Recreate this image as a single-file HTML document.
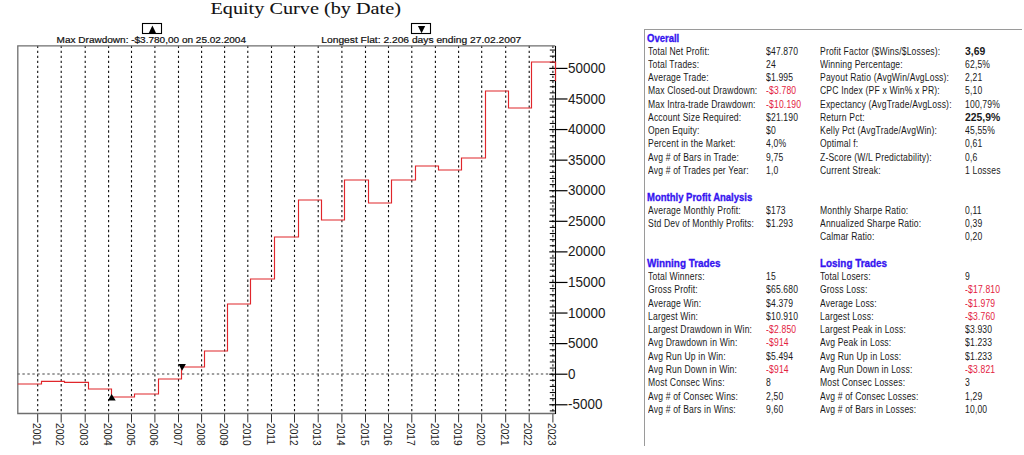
<!DOCTYPE html>
<html><head><meta charset="utf-8"><title>Equity Curve</title>
<style>
html,body{margin:0;padding:0;background:#fff;}
body{width:1024px;height:455px;position:relative;overflow:hidden;}
#tbl{position:absolute;left:0;top:0;width:1024px;height:455px;}
#box{position:absolute;left:644.2px;top:29.4px;width:377.5px;height:416.2px;border-top:1.3px solid #9a9a9a;border-left:1.3px solid #9a9a9a;box-sizing:border-box;}
#tbl span{position:absolute;white-space:nowrap;font-family:"Liberation Sans",Arial,sans-serif;font-size:10px;line-height:0;color:#1a1a1a;transform-origin:0 0;transform:scaleX(0.857);letter-spacing:0.2px;}
#tbl span.r{color:#e3223e;}
#tbl span.h{color:#3514f0;font-weight:bold;transform:scaleX(0.95);-webkit-text-stroke:0.3px #3514f0;margin-left:-0.7px;margin-top:0.3px;letter-spacing:0;}
#tbl span.h2{transform:scaleX(0.99);}
#tbl span.b{font-weight:bold;transform:scaleX(1.04);letter-spacing:0;}
</style></head><body>
<svg width="640" height="455" viewBox="0 0 640 455" style="position:absolute;left:0;top:0"><text transform="translate(210.4,13.9) scale(1.205,1)" font-family="Liberation Serif, serif" font-size="16.8" fill="#111" stroke="#111" stroke-width="0.08">Equity Curve (by Date)</text><text transform="translate(56.6,42.9) scale(1.115,1)" font-family="Liberation Sans, sans-serif" font-size="9" fill="#111" stroke="#111" stroke-width="0.2">Max Drawdown: -$3.780,00 on 25.02.2004</text><text transform="translate(321.3,42.8) scale(1.14,1)" font-family="Liberation Sans, sans-serif" font-size="9" fill="#111" stroke="#111" stroke-width="0.2">Longest Flat: 2.206 days ending 27.02.2007</text><rect x="142.5" y="23.5" width="19" height="10" fill="#fff" stroke="#000" stroke-width="1.1"/><path d="M152.4 25.4 L156.1 33.3 L148.7 33.3 Z" fill="#000"/><rect x="411.5" y="23.5" width="19" height="10" fill="#fff" stroke="#000" stroke-width="1.1"/><path d="M417.9 26.0 L425.2 26.0 L421.6 33.3 Z" fill="#000"/><line x1="37.7" y1="45.78" x2="37.7" y2="413.5" stroke="#111" stroke-width="1.1" stroke-dasharray="2.3 2.675"/><line x1="61.2" y1="45.78" x2="61.2" y2="413.5" stroke="#111" stroke-width="1.1" stroke-dasharray="2.3 2.675"/><line x1="85.2" y1="45.78" x2="85.2" y2="413.5" stroke="#111" stroke-width="1.1" stroke-dasharray="2.3 2.675"/><line x1="108.6" y1="45.78" x2="108.6" y2="413.5" stroke="#111" stroke-width="1.1" stroke-dasharray="2.3 2.675"/><line x1="131.5" y1="45.78" x2="131.5" y2="413.5" stroke="#111" stroke-width="1.1" stroke-dasharray="2.3 2.675"/><line x1="154.9" y1="45.78" x2="154.9" y2="413.5" stroke="#111" stroke-width="1.1" stroke-dasharray="2.3 2.675"/><line x1="178.5" y1="45.78" x2="178.5" y2="413.5" stroke="#111" stroke-width="1.1" stroke-dasharray="2.3 2.675"/><line x1="201.6" y1="45.78" x2="201.6" y2="413.5" stroke="#111" stroke-width="1.1" stroke-dasharray="2.3 2.675"/><line x1="224.6" y1="45.78" x2="224.6" y2="413.5" stroke="#111" stroke-width="1.1" stroke-dasharray="2.3 2.675"/><line x1="247.8" y1="45.78" x2="247.8" y2="413.5" stroke="#111" stroke-width="1.1" stroke-dasharray="2.3 2.675"/><line x1="271.5" y1="45.78" x2="271.5" y2="413.5" stroke="#111" stroke-width="1.1" stroke-dasharray="2.3 2.675"/><line x1="294.5" y1="45.78" x2="294.5" y2="413.5" stroke="#111" stroke-width="1.1" stroke-dasharray="2.3 2.675"/><line x1="318.2" y1="45.78" x2="318.2" y2="413.5" stroke="#111" stroke-width="1.1" stroke-dasharray="2.3 2.675"/><line x1="341.9" y1="45.78" x2="341.9" y2="413.5" stroke="#111" stroke-width="1.1" stroke-dasharray="2.3 2.675"/><line x1="365.5" y1="45.78" x2="365.5" y2="413.5" stroke="#111" stroke-width="1.1" stroke-dasharray="2.3 2.675"/><line x1="388.5" y1="45.78" x2="388.5" y2="413.5" stroke="#111" stroke-width="1.1" stroke-dasharray="2.3 2.675"/><line x1="411.8" y1="45.78" x2="411.8" y2="413.5" stroke="#111" stroke-width="1.1" stroke-dasharray="2.3 2.675"/><line x1="435.4" y1="45.78" x2="435.4" y2="413.5" stroke="#111" stroke-width="1.1" stroke-dasharray="2.3 2.675"/><line x1="458.6" y1="45.78" x2="458.6" y2="413.5" stroke="#111" stroke-width="1.1" stroke-dasharray="2.3 2.675"/><line x1="481.7" y1="45.78" x2="481.7" y2="413.5" stroke="#111" stroke-width="1.1" stroke-dasharray="2.3 2.675"/><line x1="505.7" y1="45.78" x2="505.7" y2="413.5" stroke="#111" stroke-width="1.1" stroke-dasharray="2.3 2.675"/><line x1="529.2" y1="45.78" x2="529.2" y2="413.5" stroke="#111" stroke-width="1.1" stroke-dasharray="2.3 2.675"/><line x1="552.9" y1="45.78" x2="552.9" y2="413.5" stroke="#111" stroke-width="1.1" stroke-dasharray="2.3 2.675"/><line x1="17.400000000000002" y1="374.0" x2="555.3" y2="374.0" stroke="#444" stroke-width="1.15" stroke-dasharray="2.4 2.585"/><line x1="37.7" y1="413.5" x2="37.7" y2="422.5" stroke="#333" stroke-width="1"/><line x1="61.2" y1="413.5" x2="61.2" y2="422.5" stroke="#333" stroke-width="1"/><line x1="85.2" y1="413.5" x2="85.2" y2="422.5" stroke="#333" stroke-width="1"/><line x1="108.6" y1="413.5" x2="108.6" y2="422.5" stroke="#333" stroke-width="1"/><line x1="131.5" y1="413.5" x2="131.5" y2="422.5" stroke="#333" stroke-width="1"/><line x1="154.9" y1="413.5" x2="154.9" y2="422.5" stroke="#333" stroke-width="1"/><line x1="178.5" y1="413.5" x2="178.5" y2="422.5" stroke="#333" stroke-width="1"/><line x1="201.6" y1="413.5" x2="201.6" y2="422.5" stroke="#333" stroke-width="1"/><line x1="224.6" y1="413.5" x2="224.6" y2="422.5" stroke="#333" stroke-width="1"/><line x1="247.8" y1="413.5" x2="247.8" y2="422.5" stroke="#333" stroke-width="1"/><line x1="271.5" y1="413.5" x2="271.5" y2="422.5" stroke="#333" stroke-width="1"/><line x1="294.5" y1="413.5" x2="294.5" y2="422.5" stroke="#333" stroke-width="1"/><line x1="318.2" y1="413.5" x2="318.2" y2="422.5" stroke="#333" stroke-width="1"/><line x1="341.9" y1="413.5" x2="341.9" y2="422.5" stroke="#333" stroke-width="1"/><line x1="365.5" y1="413.5" x2="365.5" y2="422.5" stroke="#333" stroke-width="1"/><line x1="388.5" y1="413.5" x2="388.5" y2="422.5" stroke="#333" stroke-width="1"/><line x1="411.8" y1="413.5" x2="411.8" y2="422.5" stroke="#333" stroke-width="1"/><line x1="435.4" y1="413.5" x2="435.4" y2="422.5" stroke="#333" stroke-width="1"/><line x1="458.6" y1="413.5" x2="458.6" y2="422.5" stroke="#333" stroke-width="1"/><line x1="481.7" y1="413.5" x2="481.7" y2="422.5" stroke="#333" stroke-width="1"/><line x1="505.7" y1="413.5" x2="505.7" y2="422.5" stroke="#333" stroke-width="1"/><line x1="529.2" y1="413.5" x2="529.2" y2="422.5" stroke="#333" stroke-width="1"/><line x1="552.9" y1="413.5" x2="552.9" y2="422.5" stroke="#333" stroke-width="1"/><path d="M555.3 45.9 H17.8 V413.5 H555.3" fill="none" stroke="#6e6e6e" stroke-width="1.3"/><line x1="555.5" y1="45.9" x2="555.5" y2="414.0" stroke="#000" stroke-width="1.1"/><line x1="549.8" y1="410.90" x2="555.5" y2="410.90" stroke="#000" stroke-width="1"/><line x1="549.3" y1="404.78" x2="567.5" y2="404.78" stroke="#000" stroke-width="1.2"/><line x1="549.8" y1="398.66" x2="555.5" y2="398.66" stroke="#000" stroke-width="1"/><line x1="549.8" y1="392.55" x2="555.5" y2="392.55" stroke="#000" stroke-width="1"/><line x1="549.8" y1="386.43" x2="555.5" y2="386.43" stroke="#000" stroke-width="1"/><line x1="549.8" y1="380.32" x2="555.5" y2="380.32" stroke="#000" stroke-width="1"/><line x1="549.3" y1="374.20" x2="567.5" y2="374.20" stroke="#000" stroke-width="1.2"/><line x1="549.8" y1="368.08" x2="555.5" y2="368.08" stroke="#000" stroke-width="1"/><line x1="549.8" y1="361.97" x2="555.5" y2="361.97" stroke="#000" stroke-width="1"/><line x1="549.8" y1="355.85" x2="555.5" y2="355.85" stroke="#000" stroke-width="1"/><line x1="549.8" y1="349.74" x2="555.5" y2="349.74" stroke="#000" stroke-width="1"/><line x1="549.3" y1="343.62" x2="567.5" y2="343.62" stroke="#000" stroke-width="1.2"/><line x1="549.8" y1="337.50" x2="555.5" y2="337.50" stroke="#000" stroke-width="1"/><line x1="549.8" y1="331.39" x2="555.5" y2="331.39" stroke="#000" stroke-width="1"/><line x1="549.8" y1="325.27" x2="555.5" y2="325.27" stroke="#000" stroke-width="1"/><line x1="549.8" y1="319.16" x2="555.5" y2="319.16" stroke="#000" stroke-width="1"/><line x1="549.3" y1="313.04" x2="567.5" y2="313.04" stroke="#000" stroke-width="1.2"/><line x1="549.8" y1="306.92" x2="555.5" y2="306.92" stroke="#000" stroke-width="1"/><line x1="549.8" y1="300.81" x2="555.5" y2="300.81" stroke="#000" stroke-width="1"/><line x1="549.8" y1="294.69" x2="555.5" y2="294.69" stroke="#000" stroke-width="1"/><line x1="549.8" y1="288.58" x2="555.5" y2="288.58" stroke="#000" stroke-width="1"/><line x1="549.3" y1="282.46" x2="567.5" y2="282.46" stroke="#000" stroke-width="1.2"/><line x1="549.8" y1="276.34" x2="555.5" y2="276.34" stroke="#000" stroke-width="1"/><line x1="549.8" y1="270.23" x2="555.5" y2="270.23" stroke="#000" stroke-width="1"/><line x1="549.8" y1="264.11" x2="555.5" y2="264.11" stroke="#000" stroke-width="1"/><line x1="549.8" y1="258.00" x2="555.5" y2="258.00" stroke="#000" stroke-width="1"/><line x1="549.3" y1="251.88" x2="567.5" y2="251.88" stroke="#000" stroke-width="1.2"/><line x1="549.8" y1="245.76" x2="555.5" y2="245.76" stroke="#000" stroke-width="1"/><line x1="549.8" y1="239.65" x2="555.5" y2="239.65" stroke="#000" stroke-width="1"/><line x1="549.8" y1="233.53" x2="555.5" y2="233.53" stroke="#000" stroke-width="1"/><line x1="549.8" y1="227.42" x2="555.5" y2="227.42" stroke="#000" stroke-width="1"/><line x1="549.3" y1="221.30" x2="567.5" y2="221.30" stroke="#000" stroke-width="1.2"/><line x1="549.8" y1="215.18" x2="555.5" y2="215.18" stroke="#000" stroke-width="1"/><line x1="549.8" y1="209.07" x2="555.5" y2="209.07" stroke="#000" stroke-width="1"/><line x1="549.8" y1="202.95" x2="555.5" y2="202.95" stroke="#000" stroke-width="1"/><line x1="549.8" y1="196.84" x2="555.5" y2="196.84" stroke="#000" stroke-width="1"/><line x1="549.3" y1="190.72" x2="567.5" y2="190.72" stroke="#000" stroke-width="1.2"/><line x1="549.8" y1="184.60" x2="555.5" y2="184.60" stroke="#000" stroke-width="1"/><line x1="549.8" y1="178.49" x2="555.5" y2="178.49" stroke="#000" stroke-width="1"/><line x1="549.8" y1="172.37" x2="555.5" y2="172.37" stroke="#000" stroke-width="1"/><line x1="549.8" y1="166.26" x2="555.5" y2="166.26" stroke="#000" stroke-width="1"/><line x1="549.3" y1="160.14" x2="567.5" y2="160.14" stroke="#000" stroke-width="1.2"/><line x1="549.8" y1="154.02" x2="555.5" y2="154.02" stroke="#000" stroke-width="1"/><line x1="549.8" y1="147.91" x2="555.5" y2="147.91" stroke="#000" stroke-width="1"/><line x1="549.8" y1="141.79" x2="555.5" y2="141.79" stroke="#000" stroke-width="1"/><line x1="549.8" y1="135.68" x2="555.5" y2="135.68" stroke="#000" stroke-width="1"/><line x1="549.3" y1="129.56" x2="567.5" y2="129.56" stroke="#000" stroke-width="1.2"/><line x1="549.8" y1="123.44" x2="555.5" y2="123.44" stroke="#000" stroke-width="1"/><line x1="549.8" y1="117.33" x2="555.5" y2="117.33" stroke="#000" stroke-width="1"/><line x1="549.8" y1="111.21" x2="555.5" y2="111.21" stroke="#000" stroke-width="1"/><line x1="549.8" y1="105.10" x2="555.5" y2="105.10" stroke="#000" stroke-width="1"/><line x1="549.3" y1="98.98" x2="567.5" y2="98.98" stroke="#000" stroke-width="1.2"/><line x1="549.8" y1="92.86" x2="555.5" y2="92.86" stroke="#000" stroke-width="1"/><line x1="549.8" y1="86.75" x2="555.5" y2="86.75" stroke="#000" stroke-width="1"/><line x1="549.8" y1="80.63" x2="555.5" y2="80.63" stroke="#000" stroke-width="1"/><line x1="549.8" y1="74.52" x2="555.5" y2="74.52" stroke="#000" stroke-width="1"/><line x1="549.3" y1="68.40" x2="567.5" y2="68.40" stroke="#000" stroke-width="1.2"/><line x1="549.8" y1="62.28" x2="555.5" y2="62.28" stroke="#000" stroke-width="1"/><line x1="549.8" y1="56.17" x2="555.5" y2="56.17" stroke="#000" stroke-width="1"/><line x1="549.8" y1="50.05" x2="555.5" y2="50.05" stroke="#000" stroke-width="1"/><text transform="translate(568.0,409.38) scale(0.96,1)" font-family="Liberation Sans, sans-serif" font-size="14" fill="#1a1a1a">-5000</text><text transform="translate(568.0,378.80) scale(0.96,1)" font-family="Liberation Sans, sans-serif" font-size="14" fill="#1a1a1a">0</text><text transform="translate(568.0,348.22) scale(0.96,1)" font-family="Liberation Sans, sans-serif" font-size="14" fill="#1a1a1a">5000</text><text transform="translate(568.0,317.64) scale(0.96,1)" font-family="Liberation Sans, sans-serif" font-size="14" fill="#1a1a1a">10000</text><text transform="translate(568.0,287.06) scale(0.96,1)" font-family="Liberation Sans, sans-serif" font-size="14" fill="#1a1a1a">15000</text><text transform="translate(568.0,256.48) scale(0.96,1)" font-family="Liberation Sans, sans-serif" font-size="14" fill="#1a1a1a">20000</text><text transform="translate(568.0,225.90) scale(0.96,1)" font-family="Liberation Sans, sans-serif" font-size="14" fill="#1a1a1a">25000</text><text transform="translate(568.0,195.32) scale(0.96,1)" font-family="Liberation Sans, sans-serif" font-size="14" fill="#1a1a1a">30000</text><text transform="translate(568.0,164.74) scale(0.96,1)" font-family="Liberation Sans, sans-serif" font-size="14" fill="#1a1a1a">35000</text><text transform="translate(568.0,134.16) scale(0.96,1)" font-family="Liberation Sans, sans-serif" font-size="14" fill="#1a1a1a">40000</text><text transform="translate(568.0,103.58) scale(0.96,1)" font-family="Liberation Sans, sans-serif" font-size="14" fill="#1a1a1a">45000</text><text transform="translate(568.0,73.00) scale(0.96,1)" font-family="Liberation Sans, sans-serif" font-size="14" fill="#1a1a1a">50000</text><text transform="translate(32.90,423.0) rotate(90) scale(1.0,1.03)" font-family="Liberation Sans, sans-serif" font-size="10.2" fill="#222">2001</text><text transform="translate(56.40,423.0) rotate(90) scale(1.0,1.03)" font-family="Liberation Sans, sans-serif" font-size="10.2" fill="#222">2002</text><text transform="translate(80.40,423.0) rotate(90) scale(1.0,1.03)" font-family="Liberation Sans, sans-serif" font-size="10.2" fill="#222">2003</text><text transform="translate(103.80,423.0) rotate(90) scale(1.0,1.03)" font-family="Liberation Sans, sans-serif" font-size="10.2" fill="#222">2004</text><text transform="translate(126.70,423.0) rotate(90) scale(1.0,1.03)" font-family="Liberation Sans, sans-serif" font-size="10.2" fill="#222">2005</text><text transform="translate(150.10,423.0) rotate(90) scale(1.0,1.03)" font-family="Liberation Sans, sans-serif" font-size="10.2" fill="#222">2006</text><text transform="translate(173.70,423.0) rotate(90) scale(1.0,1.03)" font-family="Liberation Sans, sans-serif" font-size="10.2" fill="#222">2007</text><text transform="translate(196.80,423.0) rotate(90) scale(1.0,1.03)" font-family="Liberation Sans, sans-serif" font-size="10.2" fill="#222">2008</text><text transform="translate(219.80,423.0) rotate(90) scale(1.0,1.03)" font-family="Liberation Sans, sans-serif" font-size="10.2" fill="#222">2009</text><text transform="translate(243.00,423.0) rotate(90) scale(1.0,1.03)" font-family="Liberation Sans, sans-serif" font-size="10.2" fill="#222">2010</text><text transform="translate(266.70,423.0) rotate(90) scale(1.0,1.03)" font-family="Liberation Sans, sans-serif" font-size="10.2" fill="#222">2011</text><text transform="translate(289.70,423.0) rotate(90) scale(1.0,1.03)" font-family="Liberation Sans, sans-serif" font-size="10.2" fill="#222">2012</text><text transform="translate(313.40,423.0) rotate(90) scale(1.0,1.03)" font-family="Liberation Sans, sans-serif" font-size="10.2" fill="#222">2013</text><text transform="translate(337.10,423.0) rotate(90) scale(1.0,1.03)" font-family="Liberation Sans, sans-serif" font-size="10.2" fill="#222">2014</text><text transform="translate(360.70,423.0) rotate(90) scale(1.0,1.03)" font-family="Liberation Sans, sans-serif" font-size="10.2" fill="#222">2015</text><text transform="translate(383.70,423.0) rotate(90) scale(1.0,1.03)" font-family="Liberation Sans, sans-serif" font-size="10.2" fill="#222">2016</text><text transform="translate(407.00,423.0) rotate(90) scale(1.0,1.03)" font-family="Liberation Sans, sans-serif" font-size="10.2" fill="#222">2017</text><text transform="translate(430.60,423.0) rotate(90) scale(1.0,1.03)" font-family="Liberation Sans, sans-serif" font-size="10.2" fill="#222">2018</text><text transform="translate(453.80,423.0) rotate(90) scale(1.0,1.03)" font-family="Liberation Sans, sans-serif" font-size="10.2" fill="#222">2019</text><text transform="translate(476.90,423.0) rotate(90) scale(1.0,1.03)" font-family="Liberation Sans, sans-serif" font-size="10.2" fill="#222">2020</text><text transform="translate(500.90,423.0) rotate(90) scale(1.0,1.03)" font-family="Liberation Sans, sans-serif" font-size="10.2" fill="#222">2021</text><text transform="translate(524.40,423.0) rotate(90) scale(1.0,1.03)" font-family="Liberation Sans, sans-serif" font-size="10.2" fill="#222">2022</text><text transform="translate(548.10,423.0) rotate(90) scale(1.0,1.03)" font-family="Liberation Sans, sans-serif" font-size="10.2" fill="#222">2023</text><path d="M17.8 384.0 H41.5 V381.4 H64.5 V382.4 H88.5 V389.0 H111.5 V397.0 H134.5 V394.0 H158.5 V379.0 H181.5 V367.0 H204.5 V351.0 H227.5 V304.0 H250.5 V279.0 H274.5 V237.0 H298.5 V200.0 H321.5 V220.0 H344.5 V180.0 H368.5 V203.0 H391.5 V180.0 H415.5 V166.0 H438.5 V170.0 H461.5 V158.0 H485.5 V91.0 H508.5 V108.0 H531.5 V62.0 H555.5 V81.0" fill="none" stroke="#e0262b" stroke-width="1.15" stroke-linejoin="miter"/><path d="M111.6 393.9 L115.7 400.6 L107.9 400.6 Z" fill="#000"/><path d="M178.4 363.9 L185.9 363.9 L182.1 370.8 Z" fill="#000"/></svg>
<div id="tbl"><div id="box"></div>
<span class="h" style="left:647.6px;top:38.23px">Overall</span>
<span class="n" style="left:647.6px;top:51.50px">Total Net Profit:</span>
<span class="n" style="left:765.6px;top:51.50px">$47.870</span>
<span class="n" style="left:820.3px;top:51.50px">Profit Factor ($Wins/$Losses):</span>
<span class="b" style="left:964.6px;top:51.50px">3,69</span>
<span class="n" style="left:647.6px;top:64.77px">Total Trades:</span>
<span class="n" style="left:765.6px;top:64.77px">24</span>
<span class="n" style="left:820.3px;top:64.77px">Winning Percentage:</span>
<span class="n" style="left:964.6px;top:64.77px">62,5%</span>
<span class="n" style="left:647.6px;top:78.04px">Average Trade:</span>
<span class="n" style="left:765.6px;top:78.04px">$1.995</span>
<span class="n" style="left:820.3px;top:78.04px">Payout Ratio (AvgWin/AvgLoss):</span>
<span class="n" style="left:964.6px;top:78.04px">2,21</span>
<span class="n" style="left:647.6px;top:91.31px">Max Closed-out Drawdown:</span>
<span class="r" style="left:765.6px;top:91.31px">-$3.780</span>
<span class="n" style="left:820.3px;top:91.31px">CPC Index (PF x Win% x PR):</span>
<span class="n" style="left:964.6px;top:91.31px">5,10</span>
<span class="n" style="left:647.6px;top:104.58px">Max Intra-trade Drawdown:</span>
<span class="r" style="left:765.6px;top:104.58px">-$10.190</span>
<span class="n" style="left:820.3px;top:104.58px">Expectancy (AvgTrade/AvgLoss):</span>
<span class="n" style="left:964.6px;top:104.58px">100,79%</span>
<span class="n" style="left:647.6px;top:117.85px">Account Size Required:</span>
<span class="n" style="left:765.6px;top:117.85px">$21.190</span>
<span class="n" style="left:820.3px;top:117.85px">Return Pct:</span>
<span class="b" style="left:964.6px;top:117.85px">225,9%</span>
<span class="n" style="left:647.6px;top:131.12px">Open Equity:</span>
<span class="n" style="left:765.6px;top:131.12px">$0</span>
<span class="n" style="left:820.3px;top:131.12px">Kelly Pct (AvgTrade/AvgWin):</span>
<span class="n" style="left:964.6px;top:131.12px">45,55%</span>
<span class="n" style="left:647.6px;top:144.39px">Percent in the Market:</span>
<span class="n" style="left:765.6px;top:144.39px">4,0%</span>
<span class="n" style="left:820.3px;top:144.39px">Optimal f:</span>
<span class="n" style="left:964.6px;top:144.39px">0,61</span>
<span class="n" style="left:647.6px;top:157.66px">Avg # of Bars in Trade:</span>
<span class="n" style="left:765.6px;top:157.66px">9,75</span>
<span class="n" style="left:820.3px;top:157.66px">Z-Score (W/L Predictability):</span>
<span class="n" style="left:964.6px;top:157.66px">0,6</span>
<span class="n" style="left:647.6px;top:170.93px">Avg # of Trades per Year:</span>
<span class="n" style="left:765.6px;top:170.93px">1,0</span>
<span class="n" style="left:820.3px;top:170.93px">Current Streak:</span>
<span class="n" style="left:964.6px;top:170.93px">1 Losses</span>
<span class="h" style="left:647.6px;top:197.47px">Monthly Profit Analysis</span>
<span class="n" style="left:647.6px;top:210.74px">Average Monthly Profit:</span>
<span class="n" style="left:765.6px;top:210.74px">$173</span>
<span class="n" style="left:820.3px;top:210.74px">Monthly Sharpe Ratio:</span>
<span class="n" style="left:964.6px;top:210.74px">0,11</span>
<span class="n" style="left:647.6px;top:224.01px">Std Dev of Monthly Profits:</span>
<span class="n" style="left:765.6px;top:224.01px">$1.293</span>
<span class="n" style="left:820.3px;top:224.01px">Annualized Sharpe Ratio:</span>
<span class="n" style="left:964.6px;top:224.01px">0,39</span>
<span class="n" style="left:820.3px;top:237.28px">Calmar Ratio:</span>
<span class="n" style="left:964.6px;top:237.28px">0,20</span>
<span class="h h2" style="left:647.6px;top:263.82px">Winning Trades</span>
<span class="h h2" style="left:820.3px;top:263.82px">Losing Trades</span>
<span class="n" style="left:647.6px;top:277.09px">Total Winners:</span>
<span class="n" style="left:765.6px;top:277.09px">15</span>
<span class="n" style="left:820.3px;top:277.09px">Total Losers:</span>
<span class="n" style="left:964.6px;top:277.09px">9</span>
<span class="n" style="left:647.6px;top:290.36px">Gross Profit:</span>
<span class="n" style="left:765.6px;top:290.36px">$65.680</span>
<span class="n" style="left:820.3px;top:290.36px">Gross Loss:</span>
<span class="r" style="left:964.6px;top:290.36px">-$17.810</span>
<span class="n" style="left:647.6px;top:303.63px">Average Win:</span>
<span class="n" style="left:765.6px;top:303.63px">$4.379</span>
<span class="n" style="left:820.3px;top:303.63px">Average Loss:</span>
<span class="r" style="left:964.6px;top:303.63px">-$1.979</span>
<span class="n" style="left:647.6px;top:316.90px">Largest Win:</span>
<span class="n" style="left:765.6px;top:316.90px">$10.910</span>
<span class="n" style="left:820.3px;top:316.90px">Largest Loss:</span>
<span class="r" style="left:964.6px;top:316.90px">-$3.760</span>
<span class="n" style="left:647.6px;top:330.17px">Largest Drawdown in Win:</span>
<span class="r" style="left:765.6px;top:330.17px">-$2.850</span>
<span class="n" style="left:820.3px;top:330.17px">Largest Peak in Loss:</span>
<span class="n" style="left:964.6px;top:330.17px">$3.930</span>
<span class="n" style="left:647.6px;top:343.44px">Avg Drawdown in Win:</span>
<span class="r" style="left:765.6px;top:343.44px">-$914</span>
<span class="n" style="left:820.3px;top:343.44px">Avg Peak in Loss:</span>
<span class="n" style="left:964.6px;top:343.44px">$1.233</span>
<span class="n" style="left:647.6px;top:356.71px">Avg Run Up in Win:</span>
<span class="n" style="left:765.6px;top:356.71px">$5.494</span>
<span class="n" style="left:820.3px;top:356.71px">Avg Run Up in Loss:</span>
<span class="n" style="left:964.6px;top:356.71px">$1.233</span>
<span class="n" style="left:647.6px;top:369.98px">Avg Run Down in Win:</span>
<span class="r" style="left:765.6px;top:369.98px">-$914</span>
<span class="n" style="left:820.3px;top:369.98px">Avg Run Down in Loss:</span>
<span class="r" style="left:964.6px;top:369.98px">-$3.821</span>
<span class="n" style="left:647.6px;top:383.25px">Most Consec Wins:</span>
<span class="n" style="left:765.6px;top:383.25px">8</span>
<span class="n" style="left:820.3px;top:383.25px">Most Consec Losses:</span>
<span class="n" style="left:964.6px;top:383.25px">3</span>
<span class="n" style="left:647.6px;top:396.52px">Avg # of Consec Wins:</span>
<span class="n" style="left:765.6px;top:396.52px">2,50</span>
<span class="n" style="left:820.3px;top:396.52px">Avg # of Consec Losses:</span>
<span class="n" style="left:964.6px;top:396.52px">1,29</span>
<span class="n" style="left:647.6px;top:409.79px">Avg # of Bars in Wins:</span>
<span class="n" style="left:765.6px;top:409.79px">9,60</span>
<span class="n" style="left:820.3px;top:409.79px">Avg # of Bars in Losses:</span>
<span class="n" style="left:964.6px;top:409.79px">10,00</span>
</div>
</body></html>
